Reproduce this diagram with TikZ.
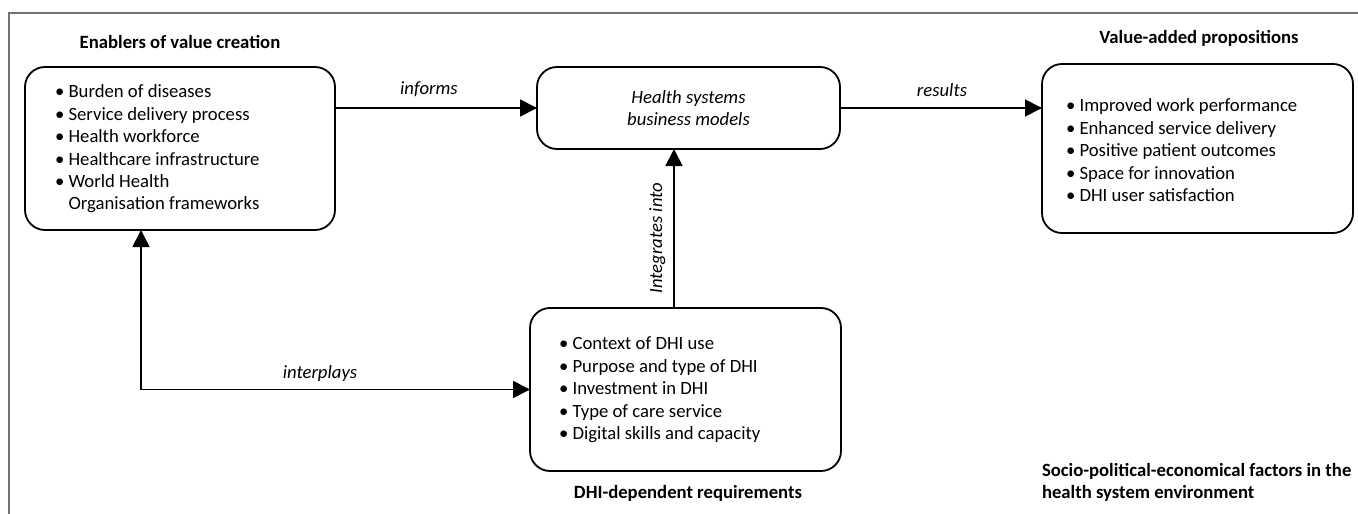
\documentclass[tikz,border=0pt]{standalone}
\usepackage{fontspec}
\setmainfont{Carlito}
\usetikzlibrary{arrows.meta}
\begin{document}
\begin{tikzpicture}[x=1pt,y=-1pt,
  every node/.style={inner sep=0pt, outer sep=0pt},
  box/.style={draw, line width=1.8pt, rounded corners=20pt},
  conn/.style={line width=1.8pt, -{Triangle[length=17pt,width=17pt]}},
  conn2/.style={line width=1.8pt, {Triangle[length=17pt,width=17pt]}-{Triangle[length=17pt,width=17pt]}},
  txt/.style={font=\fontsize{18.7}{22.4}\selectfont, align=left, anchor=north west},
  ttl/.style={font=\fontsize{18.7}{22.4}\selectfont\bfseries, anchor=base},
  lbl/.style={font=\fontsize{18.7}{22.4}\selectfont\itshape, anchor=base},
  frame/.style={draw=black!55, line width=1.3pt}
]
\useasboundingbox (0,0) rectangle (1358,514);
% outer frame (top and left edges visible)
\draw[frame] (9,514) -- (9,13) -- (1358,13);

% boxes
\node[box, minimum width=310pt, minimum height=163pt] (en) at (180,148.5) {};
\node[box, minimum width=303pt, minimum height=82pt] (hs) at (688.5,108) {};
\node[box, minimum width=311pt, minimum height=169pt] (va) at (1197.5,148.5) {};
\node[box, minimum width=311pt, minimum height=163pt] (dhi) at (685.5,389.5) {};

% titles
\node[ttl] (enT) at (180,48) {Enablers of value creation};
\node[ttl] (vaT) at (1199,43) {Value-added propositions};
\node[ttl] (dhiT) at (688,498) {DHI-dependent requirements};
\node[font=\fontsize{18.7}{22}\selectfont\bfseries, align=left, anchor=north west] (soc) at (1042,463)
  {Socio-political-economical factors in the\\health system environment};

% box contents
\node[txt] (enX) at (55,85) {•\ Burden of diseases\\•\ Service delivery process\\•\ Health workforce\\•\ Healthcare infrastructure\\•\ World Health\\\phantom{•\ }Organisation frameworks};
\node[font=\fontsize{18.7}{22.7}\selectfont\itshape, align=center] (hsX) at (hs.center) {Health systems\\business models};
\node[txt] (vaX) at (1066,99) {•\ Improved work performance\\•\ Enhanced service delivery\\•\ Positive patient outcomes\\•\ Space for innovation\\•\ DHI user satisfaction};
\node[txt] (dhiX) at (559,337) {•\ Context of DHI use\\•\ Purpose and type of DHI\\•\ Investment in DHI\\•\ Type of care service\\•\ Digital skills and capacity};

% connectors
\draw[conn] (en.east |- hs.west) -- (hs.west) node[lbl, pos=0.465, above=11pt] (inf) {informs};
\draw[conn] (hs.east) -- (va.west |- hs.east) node[lbl, pos=0.505, above=11pt] (res) {results};
\coordinate (ix) at (674,0);
\draw[conn] (dhi.north -| ix) -- (hs.south -| ix);
\node[lbl, rotate=90] (intL) at (662,238) {Integrates into};
\coordinate (corner) at (141,389.5);
\draw[conn2] (en.south -| corner) -- (corner) -- (dhi.west);
\node[lbl] (ipl) at (320,378) {interplays};
\end{tikzpicture}
\end{document}
